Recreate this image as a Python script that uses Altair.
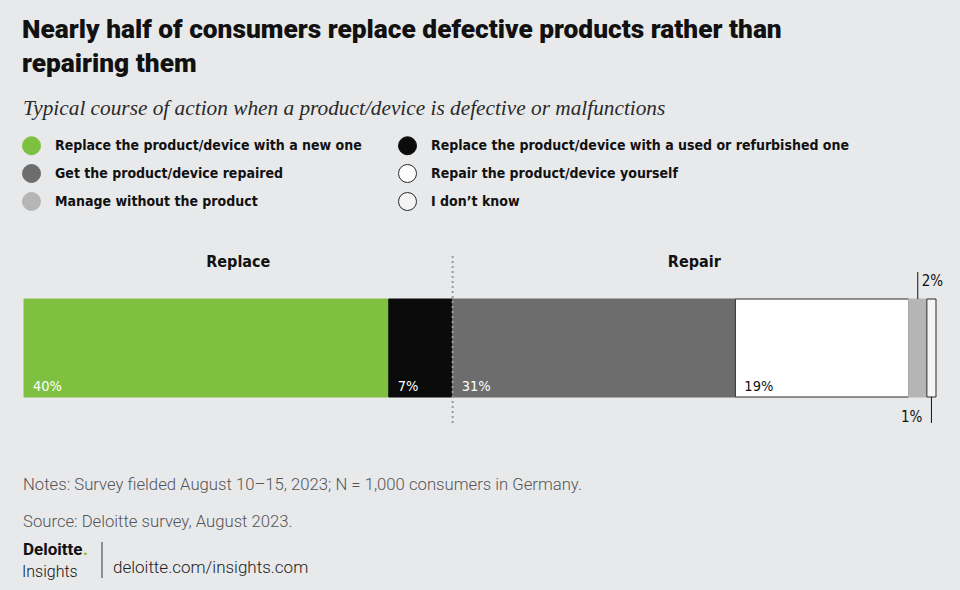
import altair as alt
import pandas as pd

# ---------------- data ----------------
categories = [
    "Replace the product/device with a new one",
    "Replace the product/device with a used or refurbished one",
    "Get the product/device repaired",
    "Repair the product/device yourself",
    "Manage without the product",
    "I don’t know",
]
values = [40, 7, 31, 19, 2, 1]
groups = ["Replace", "Replace", "Repair", "Repair", "Repair", "Repair"]
fills = ["#80c041", "#0b0b0b", "#6d6d6d", "#ffffff", "#b5b5b5", "#f4f4f4"]
outlines = ["#80c041", "#0b0b0b", "#6d6d6d", "#2a2a2a", "#b5b5b5", "#2a2a2a"]
label_colors = ["#ffffff", "#ffffff", "#ffffff", "#111111", "#111111", "#111111"]
# legend is filled column by column (3 rows x 2 columns)
legend_order = [0, 2, 4, 1, 3, 5]

title_lines = [
    "Nearly half of consumers replace defective products rather than",
    "repairing them",
]
subtitle = "Typical course of action when a product/device is defective or malfunctions"
notes = "Notes: Survey fielded August 10–15, 2023; N = 1,000 consumers in Germany."
source = "Source: Deloitte survey, August 2023."
url = "deloitte.com/insights.com"

df = pd.DataFrame({
    "category": categories,
    "value": values,
    "group": groups,
    "order": list(range(len(categories))),
    "lc": label_colors,
})

leg_domain = [categories[i] for i in legend_order]
leg_fills = [fills[i] for i in legend_order]
leg_strokes = [outlines[i] for i in legend_order]

# ---------------- layout ----------------
W, H = 960, 590
BAR_LEFT, BAR_RIGHT = 24, 936
BAR_TOP, BAR_BOTTOM = 299, 397
BG = "#e8e9eb"

COND = "'DejaVu Sans Condensed', 'Roboto'"
HEAVY = "'Roboto', 'Lato'"
SERIF = "'Liberation Serif', 'DejaVu Serif', serif"

ppu = (BAR_RIGHT - BAR_LEFT) / 100.0
d0 = -BAR_LEFT / ppu
d1 = d0 + W / ppu
xs = alt.Scale(domain=[d0, d1], nice=False, zero=False)

base = alt.Chart(df).transform_stack(
    stack="value", groupby=[], as_=["start", "end"],
    sort=[alt.SortField("order", order="ascending")],
).transform_calculate(
    mid="(datum.start + datum.end) / 2",
    label="datum.value + '%'",
)

legend = alt.Legend(
    orient="none", legendX=22, legendY=136, columns=2, title=None,
    symbolType="circle", symbolSize=324, symbolStrokeWidth=1,
    labelFont=COND, labelFontSize=14, labelFontWeight="bold",
    labelColor="#111111", labelOffset=14, labelLimit=700,
    rowPadding=5, columnPadding=34, padding=0, symbolOpacity=1,
)

bars = base.mark_rect(strokeWidth=1).encode(
    x=alt.X("start:Q", scale=xs, axis=None),
    x2="end:Q",
    y=alt.value(BAR_TOP),
    y2=alt.value(BAR_BOTTOM),
    color=alt.Color("category:N", scale=alt.Scale(domain=leg_domain, range=leg_fills), legend=legend),
    stroke=alt.Stroke("category:N", scale=alt.Scale(domain=leg_domain, range=leg_strokes), legend=legend),
)

inside = base.transform_filter("datum.value >= 5").mark_text(
    align="left", baseline="alphabetic", dx=9, font=COND, fontSize=14.5,
).encode(
    x=alt.X("start:Q", scale=xs),
    y=alt.value(391),
    text="label:N",
    color=alt.Color("lc:N", scale=None),
)

small_above = base.transform_filter("datum.order == 4")
small_below = base.transform_filter("datum.order == 5")

above_rule = small_above.mark_rule(color="#111111", strokeWidth=1).encode(
    x=alt.X("mid:Q", scale=xs), y=alt.value(272), y2=alt.value(BAR_TOP))
above_text = small_above.mark_text(
    align="left", baseline="alphabetic", dx=4, font=COND, fontSize=15, color="#111111",
).encode(x=alt.X("mid:Q", scale=xs), y=alt.value(286), text="label:N")

below_rule = small_below.mark_rule(color="#111111", strokeWidth=1).encode(
    x=alt.X("mid:Q", scale=xs), y=alt.value(BAR_BOTTOM), y2=alt.value(423))
below_text = small_below.mark_text(
    align="right", baseline="alphabetic", dx=-9, font=COND, fontSize=15, color="#111111",
).encode(x=alt.X("mid:Q", scale=xs), y=alt.value(422), text="label:N")

grp = base.transform_aggregate(
    s="min(start)", e="max(end)", groupby=["group"]
).transform_calculate(gmid="(datum.s + datum.e) / 2")

group_text = grp.mark_text(
    align="center", baseline="alphabetic", font=COND, fontSize=16, fontWeight="bold", color="#111111",
).encode(x=alt.X("gmid:Q", scale=xs), y=alt.value(267), text="group:N")

divider = grp.transform_filter("datum.group == 'Replace'").mark_rule(
    color="#9a9a9a", strokeWidth=2, strokeDash=[2, 3],
).encode(x=alt.X("e:Q", scale=xs), y=alt.value(256), y2=alt.value(425))


def txt(s, x, y, **kw):
    opts = dict(align="left", baseline="alphabetic")
    opts.update(kw)
    return alt.Chart(pd.DataFrame({"t": [s]})).mark_text(**opts).encode(
        text="t:N", x=alt.value(x), y=alt.value(y))


texts = [
    txt(title_lines[0], 22, 38, font=HEAVY, fontSize=26.3, fontWeight=900, color="#111111"),
    txt(title_lines[1], 22, 72, font=HEAVY, fontSize=26.3, fontWeight=900, color="#111111"),
    txt(subtitle, 23, 115, font=SERIF, fontSize=21.3, fontStyle="italic", color="#2a2a2a"),
    txt(notes, 23, 490, font="Roboto", fontSize=16.7, fontWeight=300, color="#555555"),
    txt(source, 23, 527, font="Roboto", fontSize=16.7, fontWeight=300, color="#555555"),
    txt("Deloitte", 23, 555, font="Roboto", fontSize=17, fontWeight="bold", color="#111111"),
    txt(".", 83, 555, font="Roboto", fontSize=17, fontWeight="bold", color="#86bc25"),
    txt("Insights", 22, 577, font="Roboto", fontSize=16, fontWeight=300, color="#111111"),
    txt(url, 113, 573, font="Roboto", fontSize=17, fontWeight=300, color="#222222"),
]

sep = alt.Chart(pd.DataFrame({"t": [0]})).mark_rule(color="#333333", strokeWidth=1).encode(
    x=alt.value(102), y=alt.value(542), y2=alt.value(578))

chart = alt.layer(
    bars, inside, above_rule, above_text, below_rule, below_text,
    group_text, divider, sep, *texts,
).properties(
    width=W, height=H, padding=0, autosize=alt.AutoSizeParams(type="none"),
    background=BG,
).configure_view(stroke=None)

chart.save("out.html", embed_options={"renderer": "svg", "actions": False})
